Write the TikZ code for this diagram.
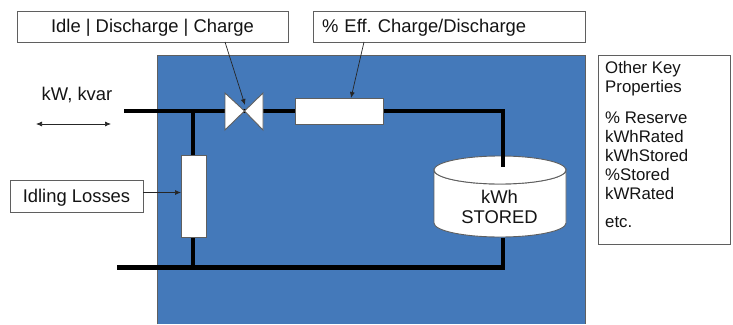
\documentclass[tikz,border=0pt]{standalone}
\usepackage{fontspec}
\setmainfont{Liberation Sans}
\usetikzlibrary{arrows.meta}
\definecolor{panelblue}{RGB}{68,121,186}
\definecolor{edgegray}{RGB}{95,95,95}
\definecolor{inktext}{RGB}{20,20,20}
\tikzset{
  px/.style={x=1pt,y=-1pt},
  labelbox/.style={draw=edgegray,line width=0.9pt,fill=white,inner sep=0pt,outer sep=0pt,text=inktext,font=\fontsize{18.4}{20}\selectfont,align=center},
  part/.style={draw=edgegray,line width=0.9pt,fill=white,inner sep=0pt,outer sep=0pt},
  wire/.style={line width=4.6pt,black},
  pointer/.style={line width=0.7pt,black!85,-{Latex[length=6pt,width=5pt]}},
  bothways/.style={line width=0.7pt,black!85,{Latex[length=6pt,width=5pt]}-{Latex[length=6pt,width=5pt]}},
  plain/.style={text=inktext,font=\fontsize{18.4}{20}\selectfont,inner sep=0pt,align=center},
  listtext/.style={text=inktext,font=\fontsize{16.8}{19}\selectfont,inner sep=0pt,anchor=west},
}
\begin{document}
\begin{tikzpicture}[px]
\useasboundingbox (0,0) rectangle (733,324);
% panel
\fill[panelblue] (157.5,55) rectangle (585,324);
\draw[edgegray,line width=0.8pt] (157.5,324) -- (157.5,55) -- (585,55) -- (585,324);
% wire coordinates
\coordinate (topfree) at (124,111);
\coordinate (topjoin) at (193,111);
\coordinate (topcorner) at (503,111);
\coordinate (cylin) at (503,167);
\coordinate (botfree) at (117,267.5);
\coordinate (botjoin) at (193,267.5);
\coordinate (botcorner) at (503,267.5);
\coordinate (cylout) at (503,237.5);
\coordinate (valvemid) at (244.5,111);
\coordinate (arrowleft) at (36,124);
\coordinate (arrowright) at (111,124);
% cylinder
\path[part] (434,170) -- (434,223) arc[start angle=180,end angle=0,x radius=66,y radius=14] -- (566,170) arc[start angle=0,end angle=180,x radius=66,y radius=14] -- cycle;
\draw[part] (500,170) ellipse[x radius=66,y radius=14];
% wires
\draw[wire,line join=miter] (botfree) -- (botcorner) -- (cylout);
\draw[wire,line join=miter] (topfree) -- (topcorner) -- (cylin);
\draw[wire] (topjoin) -- (botjoin);
% parts
\node[part,minimum width=88pt,minimum height=25.5pt] (eff) at (339,111.25) {};
\node[part,minimum width=25pt,minimum height=82pt] (idle) at (193.5,196) {};
\path[part] (225,93) -- (225,130) -- (valvemid) -- cycle;
\path[part] (263,93) -- (263,130) -- (valvemid) -- cycle;
% labels
\node[labelbox,minimum width=271pt,minimum height=31pt,text height=14pt,text depth=2pt] (mode) at (152.5,26.5) {Idle | Discharge | Charge};
\node[labelbox,inner xsep=8.5pt,text width=254.5pt,align=left,minimum height=31pt,text height=14pt,text depth=2pt] (effl) at (449.25,26.5) {\% Eff.\ Charge/Discharge};
\node[labelbox,minimum width=133pt,minimum height=32pt,text height=14pt,text depth=2pt] (loss) at (76.5,196) {Idling Losses};
\node[plain] (kw) at (77,95) {kW, kvar};
\node[plain] (kwh) at (499.5,206.5) {kWh\\STORED};
% properties
\node[part,minimum width=132pt,minimum height=189pt] (props) at (664,149.5) {};
\node[listtext] (p1) at (605,69.5) {Other Key};
\node[listtext] (p2) at (605,88.5) {Properties};
\node[listtext] (p3) at (605,117.5) {\% Reserve};
\node[listtext] (p4) at (605,136.5) {kWhRated};
\node[listtext] (p5) at (605,155.5) {kWhStored};
\node[listtext] (p6) at (605,174.5) {\%Stored};
\node[listtext] (p7) at (605,193.5) {kWRated};
\node[listtext] (p8) at (605,222.5) {etc.};
% pointers
\coordinate (modeout) at (225,42);
\coordinate (valvein) at (245,105);
\coordinate (effout) at (364,42);
\coordinate (effin) at (351,98);
\coordinate (lossout) at (143,192.5);
\coordinate (idlein) at (181,192.5);
\draw[pointer] (modeout) -- (valvein);
\draw[pointer] (effout) -- (effin);
\draw[pointer] (lossout) -- (idlein);
\draw[bothways] (arrowleft) -- (arrowright);
\end{tikzpicture}
\end{document}
